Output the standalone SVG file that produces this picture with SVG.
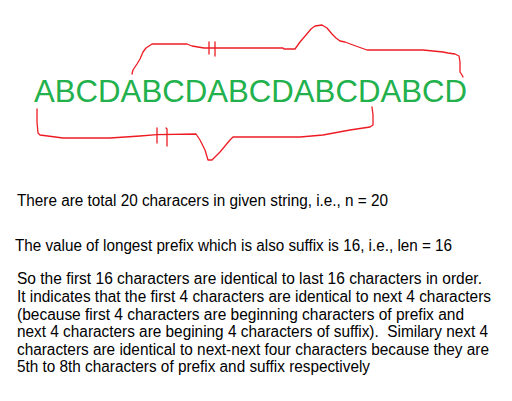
<svg xmlns="http://www.w3.org/2000/svg" width="512" height="401" viewBox="0 0 512 401">
<style>
.br{fill:none;stroke:#ed1c24;stroke-width:1.3;stroke-linejoin:round;stroke-linecap:round}
.str{font-family:"Liberation Sans",Arial,sans-serif;font-size:32px;fill:#22b14c}
.t{font-family:"Liberation Sans",Arial,sans-serif;font-size:16px;fill:#000}
</style>
<rect width="512" height="401" fill="#fff"/>
<g id="string">
<text class="str" x="34" y="102" textLength="433" lengthAdjust="spacingAndGlyphs">ABCDABCDABCDABCDABCD</text>
</g>
<g id="connectors">
<path id="prefix-brace" class="br" d="M132,74 L133,70 L137,64 L140,59 L143,52 L146,48 L152,44 L187,44 L192,46 L204,48 L283,48 L284,49 L295,49 L300,42 L306,35 L311,29 L315,26 L322,25 L327,28 L332,34 L336,38 L340,41 L345,42 L353,45 L367,50 L423,50 L443,52 L448,53 L455,54 L459,56 L460,62 L460,72 L462,75 L463,77"/>
<path class="br" d="M209,42 L209,54 M215,42 L215,56"/>
<path id="suffix-brace" class="br" d="M37,109 L37,122 L38,133 L40,135 L63,138 L110,138 L140,136 L157,134.7 L196,134 L200,140 L205,150 L208,160 L212,160 L220,152 L230,140 L233,137 L300,137 L323,135 L350,130 L370,127 L373,125 L373,115 L372,107"/>
<path class="br" d="M157,128 L157,143 M166,128 L167,129 L167,146"/>
</g>
<g id="text1">
<text class="t" x="17" y="206" textLength="371" lengthAdjust="spacingAndGlyphs">There are total 20 characers in given string, i.e., n = 20</text>
</g>
<g id="text2">
<text class="t" x="15" y="251" textLength="437" lengthAdjust="spacingAndGlyphs">The value of longest prefix which is also suffix is 16, i.e., len = 16</text>
</g>
<g id="text3">
<text class="t" x="17" y="284.3" textLength="465" lengthAdjust="spacingAndGlyphs">So the first 16 characters are identical to last 16 characters in order.</text>
<text class="t" x="17" y="301.9" textLength="474" lengthAdjust="spacingAndGlyphs">It indicates that the first 4 characters are identical to next 4 characters</text>
<text class="t" x="17" y="319.5" textLength="447" lengthAdjust="spacingAndGlyphs">(because first 4 characters are beginning characters of prefix and</text>
<text class="t" x="17" y="337.1" textLength="471" lengthAdjust="spacingAndGlyphs" xml:space="preserve">next 4 characters are begining 4 characters of suffix).  Similary next 4</text>
<text class="t" x="17" y="354.7" textLength="472" lengthAdjust="spacingAndGlyphs">characters are identical to next-next four characters because they are</text>
<text class="t" x="17" y="372.3" textLength="353" lengthAdjust="spacingAndGlyphs">5th to 8th characters of prefix and suffix respectively</text>
</g>
</svg>
